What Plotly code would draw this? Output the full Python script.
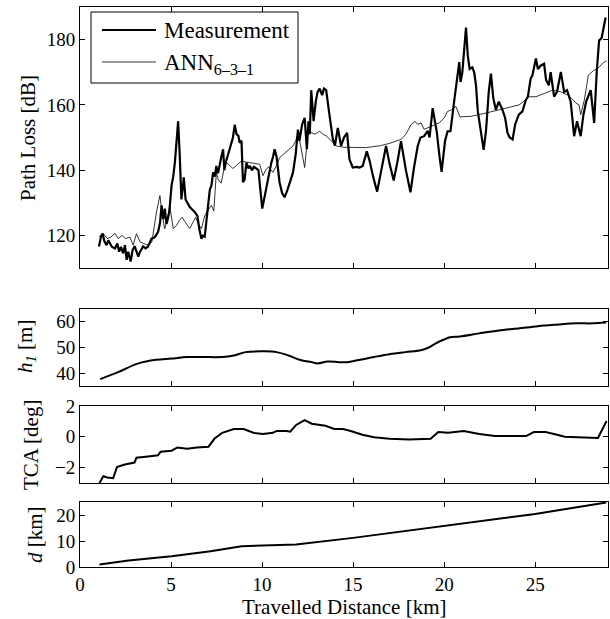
import plotly.graph_objects as go

# ---------------- data ----------------
meas_km = [1.04, 1.15, 1.24, 1.35, 1.46, 1.55, 1.64, 1.75, 1.92, 2.05, 2.15, 2.25, 2.37, 2.47, 2.56, 2.65,
           2.78, 2.89, 3.0, 3.1, 3.2, 3.3, 3.47, 3.6, 3.74, 3.93, 4.1, 4.29, 4.4, 4.48, 4.57, 4.66, 4.75,
           4.8, 4.9, 5.03, 5.12, 5.21, 5.3, 5.39, 5.48, 5.57, 5.65, 5.7, 5.8, 5.9, 6.03, 6.15, 6.3, 6.45,
           6.55, 6.67, 6.76, 6.85, 6.95, 7.04, 7.13, 7.22, 7.31, 7.4, 7.49, 7.58, 7.68, 7.76, 7.86, 7.93,
           8.0, 8.1, 8.25, 8.4, 8.5, 8.6, 8.7, 8.77, 8.87, 8.95, 9.04, 9.14, 9.25, 9.32, 9.45, 9.55, 9.69,
           9.8, 10.01, 10.14, 10.3, 10.51, 10.6, 10.69, 10.8, 10.96, 11.1, 11.24, 11.4, 11.55, 11.7, 11.85,
           11.97, 12.05, 12.2, 12.34, 12.46, 12.55, 12.62, 12.7, 12.83, 12.95, 13.05, 13.16, 13.3, 13.4,
           13.52, 13.7, 13.89, 14.0, 14.16, 14.34, 14.5, 14.67, 14.8, 14.98, 15.2, 15.35, 15.53, 15.75,
           15.9, 16.1, 16.32, 16.55, 16.81, 17.0, 17.23, 17.45, 17.63, 17.9, 18.15, 18.35, 18.55, 18.7,
           18.9, 19.1, 19.2, 19.37, 19.5, 19.6, 19.75, 19.86, 19.95, 20.05, 20.19, 20.35, 20.56, 20.7,
           20.78, 20.83, 20.9, 21.0, 21.2, 21.3, 21.4, 21.55, 21.65, 21.75, 21.85, 22.02, 22.17, 22.3,
           22.45, 22.57, 22.7, 22.84, 23.0, 23.2, 23.35, 23.48, 23.6, 23.76, 23.9, 24.1, 24.3, 24.49,
           24.6, 24.75, 24.85, 25.04, 25.15, 25.3, 25.49, 25.6, 25.75, 25.85, 26.04, 26.2, 26.41, 26.59,
           26.75, 26.95, 27.05, 27.14, 27.3, 27.5, 27.65, 27.8, 28.05, 28.15, 28.24, 28.38, 28.51, 28.65,
           28.87]
meas_db = [116.6, 119.5, 120.6, 118, 117, 118.5, 117.6, 116.5, 116, 117.5, 115, 116.5, 114.5, 117, 112.5, 115,
           112, 115.5, 116.7, 115, 113.5, 115, 116.6, 116, 116.6, 119, 119.4, 121.1, 124, 129.2, 125, 128.2, 123.5,
           124.5, 127, 135.3, 138, 142.3, 148, 155, 144.3, 131, 135, 137.8, 131, 130, 128.7, 128, 127.2, 126,
           122, 119, 119.9, 119.6, 125, 131.2, 134, 135.3, 139.3, 138, 141.3, 139, 142.3, 144, 146.4, 140,
           142.3, 144, 147, 150, 153.9, 151, 150.5, 148.4, 149, 136.3, 137, 142.3, 140.5, 141.3, 140, 141, 140.3,
           140, 128.2, 132.2, 136, 142.3, 144, 146.4, 144, 136.3, 133, 131.7, 134, 137, 139.3, 145,
           152.4, 149, 154, 156, 146.4, 155, 151, 164.5, 155, 161, 164, 165, 163, 165,
           164.5, 157, 149.4, 147.5, 152.9, 147.4, 150, 151.4, 143.3, 140.8, 141, 140.8, 141.3, 145.8,
           143, 138, 133.4, 140, 147.4, 142, 136.8, 143, 148.9, 140, 133.2, 141, 147.4, 150,
           150.4, 152, 150, 159, 155, 151.5, 144, 139.5, 144, 149, 151.9, 152, 161.5, 167,
           170, 173.1, 167, 170, 183.7, 175, 171, 171.5, 170, 166, 158, 151.4, 146.2, 152,
           164, 169.6, 162, 158.5, 161, 158.5, 156, 151.4, 150, 149.4, 154, 157, 158, 161.5,
           162.5, 168, 169.1, 174.2, 171, 172, 172.6, 167.6, 166, 170, 162.5, 164, 170.1, 164,
           164.5, 161, 155, 150.4, 155, 150.4, 157, 161, 164.5, 158, 154.5, 170, 179.7, 180.5,
           186.8]

ann_km = [1.04, 1.27, 1.5, 1.7, 1.92, 2.1, 2.3, 2.5, 2.74, 2.92, 3.1, 3.3, 3.5, 3.75, 3.95, 4.2, 4.39, 4.5,
          4.65, 4.8, 4.93, 5.12, 5.3, 5.45, 5.6, 5.8, 6.03, 6.2, 6.35, 6.5, 6.67, 6.85, 7.0, 7.22, 7.35,
          7.49, 7.6, 7.75, 7.9, 8.04, 8.2, 8.4, 8.6, 8.86, 9.1, 9.32, 9.6, 9.87, 10.05, 10.2, 10.35, 10.6,
          10.8, 10.96, 11.3, 11.7, 11.85, 11.97, 12.1, 12.34, 12.52, 12.7, 12.9, 13.16, 13.35, 13.52, 13.8,
          14.07, 14.5, 15.0, 15.72, 16.5, 17.0, 17.63, 17.9, 18.18, 18.4, 18.55, 18.73, 18.9, 19.1, 19.4,
          19.74, 20.0, 20.19, 20.4, 20.65, 20.87, 21.5, 22.3, 23.2, 24.12, 24.67, 25.04, 25.5, 25.95, 26.4,
          26.8, 27.0, 27.25, 27.41, 27.5, 27.7, 27.92, 28.2, 28.5, 28.78, 28.92]
ann_db = [119.6, 120.6, 119, 119.5, 120.6, 119, 120, 119, 119.5, 117, 120.5, 118, 117.5, 117, 118, 127.2, 132.2, 127,
          122, 125, 129.2, 122.1, 123, 124.5, 125.5, 124, 122.1, 124, 125.5, 123.5, 122.1, 126, 127.5, 129.2, 127.5,
          139.3, 137, 136, 140, 142.3, 141.5, 140.5, 141.5, 142.8, 142.5, 142.3, 142, 141.8, 138.3, 140, 141, 139.3,
          141.5, 143.8, 145.5, 147.4, 149, 151.5, 148, 140.8, 151.4, 151.5, 151, 151.9, 151, 150.5, 149,
          147.4, 147, 146.9, 146.9, 147.5, 148.2, 149.4, 151, 153.9, 155, 154, 154.5, 152.5, 153, 153.5,
          154.5, 156, 158, 158.5, 159.5, 156.3, 156.5, 157.5, 158.7, 160, 162.5, 162.5, 163.5, 164.5, 164,
          163, 162, 160.5, 160, 157, 161.5, 169.1, 170.5, 171.5, 173.1, 173.5]

h1_km = [1.11, 2.03, 3.21, 4.18, 5.03, 5.88, 6.74, 7.81, 8.45, 9.09, 10.16, 10.8, 11.45, 12.1, 12.73, 13.05,
         13.6, 14.23, 14.66, 15.3, 16.15, 17.0, 17.86, 18.72, 19.15, 19.57, 20.0, 20.33, 20.86, 21.93, 23.0,
         24.07, 25.14, 26.2, 27.27, 28.13, 28.9]
h1_m = [37.7, 40.2, 43.8, 45.2, 45.7, 46.3, 46.3, 46.3, 46.9, 48.2, 48.5, 48.2, 46.9, 45.1, 44.3, 43.8,
        44.5, 44.3, 44.3, 45.1, 46.3, 47.4, 48.2, 48.9, 50.0, 51.7, 53.1, 54.0, 54.3, 55.5, 56.6,
        57.4, 58.3, 58.9, 59.4, 59.4, 59.7]

tca_km = [1.07, 1.28, 1.5, 1.82, 2.03, 2.46, 2.99, 3.1, 3.74, 4.28, 4.43, 5.03, 5.35, 5.88, 6.42, 7.06, 7.38,
          7.81, 8.45, 8.99, 9.52, 10.05, 10.59, 10.8, 11.34, 11.55, 11.87, 12.34, 12.73, 13.48, 13.97, 14.44,
          14.87, 15.51, 16.15, 17.0, 18.08, 19.26, 19.68, 20.22, 21.08, 21.93, 22.79, 23.64, 24.5, 24.93,
          25.57, 26.2, 26.63, 27.7, 28.45, 28.92]
tca_deg = [-3.0, -2.56, -2.64, -2.69, -1.97, -1.8, -1.67, -1.36, -1.28, -1.2, -0.97, -0.9, -0.69, -0.77, -0.69,
           -0.64, -0.13, 0.26, 0.51, 0.51, 0.26, 0.18, 0.26, 0.38, 0.38, 0.33, 0.77, 1.08, 0.85, 0.72, 0.51, 0.51,
           0.38, 0.13, -0.03, -0.13, -0.18, -0.13, 0.31, 0.26, 0.38, 0.18, 0.05, 0.05, 0.05, 0.31,
           0.31, 0.13, 0.0, -0.05, -0.08, 1.03]

d_km_x = [1.07, 2.67, 5.03, 7.17, 8.88, 11.02, 11.87, 15.0, 20.0, 25.0, 28.9]
d_km = [1.0, 2.5, 4.1, 6.1, 8.0, 8.3, 8.7, 11.2, 15.9, 20.4, 24.8]

x_ticks = [0, 5, 10, 15, 20, 25]
legend_labels = ["Measurement", "ANN<sub>6–3–1</sub>"]

# ---------------- figure ----------------
W, H = 610, 619
FONT = "Liberation Serif, Times New Roman, serif"
TICK_SIZE = 19
TITLE_SIZE = 21


def ydom(top_px, bot_px):
    return [1 - bot_px / H, 1 - top_px / H]


def px(xp):
    return xp / W


def py(yp):
    return 1 - yp / H


xdom = [80 / W, 608 / W]

fig = go.Figure()
fig.add_trace(go.Scatter(x=meas_km, y=meas_db, mode="lines", name=legend_labels[0], showlegend=False,
                         line=dict(color="black", width=2.2), xaxis="x", yaxis="y"))
fig.add_trace(go.Scatter(x=ann_km, y=ann_db, mode="lines", name=legend_labels[1], showlegend=False,
                         line=dict(color="black", width=0.8), xaxis="x", yaxis="y"))
fig.add_trace(go.Scatter(x=h1_km, y=h1_m, mode="lines", showlegend=False,
                         line=dict(color="black", width=2, shape="spline"), xaxis="x2", yaxis="y2"))
fig.add_trace(go.Scatter(x=tca_km, y=tca_deg, mode="lines", showlegend=False,
                         line=dict(color="black", width=2), xaxis="x3", yaxis="y3"))
fig.add_trace(go.Scatter(x=d_km_x, y=d_km, mode="lines", showlegend=False,
                         line=dict(color="black", width=2), xaxis="x4", yaxis="y4"))

axis_common = dict(showline=True, linecolor="black", linewidth=1, mirror="ticks",
                   ticks="inside", ticklen=5, tickcolor="black", showgrid=False, zeroline=False,
                   automargin=False,
                   tickfont=dict(family=FONT, size=TICK_SIZE, color="black"))

fig.update_layout(
    width=W, height=H,
    margin=dict(l=0, r=0, t=0, b=0, pad=0, autoexpand=False),
    paper_bgcolor="white", plot_bgcolor="white",
    font=dict(family=FONT, size=TICK_SIZE, color="black"),
    showlegend=False,
    xaxis=dict(domain=xdom, range=[0, 29], tickvals=x_ticks, showticklabels=False, anchor="y", **axis_common),
    yaxis=dict(domain=ydom(7, 268), range=[110, 190], tickvals=[120, 140, 160, 180], anchor="x", **axis_common),
    xaxis2=dict(domain=xdom, range=[0, 29], tickvals=x_ticks, showticklabels=False, anchor="y2", **axis_common),
    yaxis2=dict(domain=ydom(309, 386), range=[35, 65], tickvals=[40, 50, 60], anchor="x2", **axis_common),
    xaxis3=dict(domain=xdom, range=[0, 29], tickvals=x_ticks, showticklabels=False, anchor="y3", **axis_common),
    yaxis3=dict(domain=ydom(406, 483), range=[-3, 2], tickvals=[-2, 0, 2], ticktext=["−2", "0", "2"],
                anchor="x3", **axis_common),
    xaxis4=dict(domain=xdom, range=[0, 29], tickvals=x_ticks, showticklabels=True, anchor="y4", **axis_common),
    yaxis4=dict(domain=ydom(502, 567), range=[0, 25], tickvals=[0, 10, 20], anchor="x4", **axis_common),
)

# ---- legend box (drawn in pixel space to match the reference) ----
fig.add_shape(type="rect", xref="paper", yref="paper", x0=px(91), x1=px(298), y0=py(83), y1=py(12),
              line=dict(color="black", width=1), fillcolor="white", layer="above")
fig.add_shape(type="line", xref="paper", yref="paper", x0=px(102), x1=px(156), y0=py(30), y1=py(30),
              line=dict(color="black", width=2.2), layer="above")
fig.add_shape(type="line", xref="paper", yref="paper", x0=px(102), x1=px(156), y0=py(62), y1=py(62),
              line=dict(color="black", width=0.8), layer="above")
fig.add_annotation(text=legend_labels[0], x=px(162), y=py(30), xref="paper", yref="paper",
                   showarrow=False, xanchor="left", yanchor="middle",
                   font=dict(family=FONT, size=23, color="black"))
fig.add_annotation(text=legend_labels[1], x=px(162), y=py(64), xref="paper", yref="paper",
                   showarrow=False, xanchor="left", yanchor="middle",
                   font=dict(family=FONT, size=23, color="black"))


# axis titles placed in pixel space
def ytitle(text, xpx, ypx):
    fig.add_annotation(text=text, x=px(xpx), y=py(ypx), xref="paper", yref="paper",
                       textangle=-90, showarrow=False, xanchor="center", yanchor="middle",
                       font=dict(family=FONT, size=TITLE_SIZE, color="black"))


ytitle("Path Loss [dB]", 28, 138)
ytitle("<i>h</i><sub><i>1</i></sub> [m]", 26, 347)
ytitle("TCA [deg]", 31, 445)
ytitle("<i>d</i> [km]", 35, 535)
fig.add_annotation(text="Travelled Distance [km]", x=px((80 + 608) / 2), y=py(607),
                   xref="paper", yref="paper", showarrow=False, xanchor="center", yanchor="middle",
                   font=dict(family=FONT, size=TITLE_SIZE, color="black"))

fig.write_html("out.html",
               config={"displayModeBar": False},
               post_script="document.body.style.margin='0';document.body.style.padding='0';"
                           "document.documentElement.style.overflow='hidden';"
                           "document.body.style.overflow='hidden';")
